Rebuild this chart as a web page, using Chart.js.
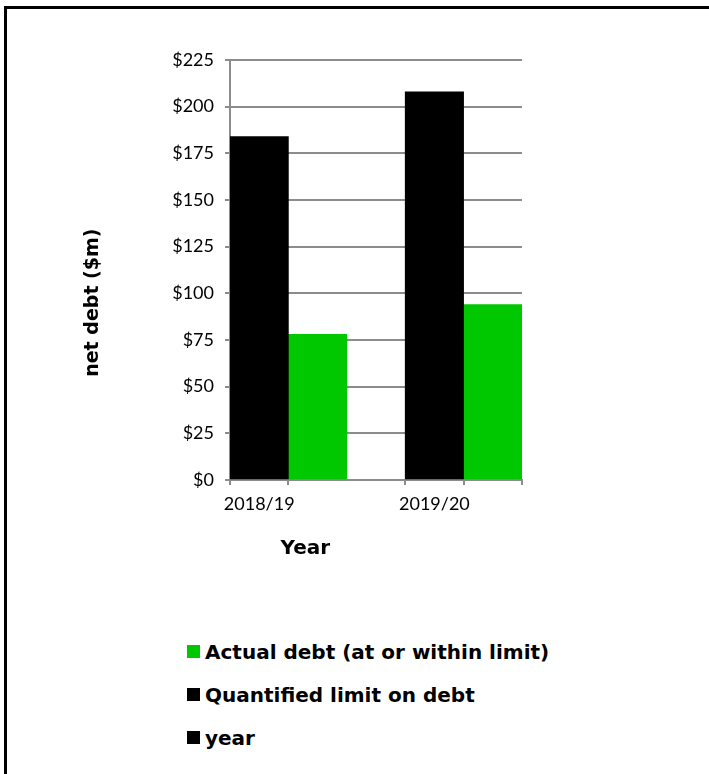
<!DOCTYPE html>
<html>
<head>
<meta charset="utf-8">
<script src="https://cdn.jsdelivr.net/npm/chart.js@4.4.1/dist/chart.umd.min.js"></script>
<style>
  html, body { margin: 0; padding: 0; background: #fff; overflow: hidden; }
  body { width: 709px; height: 774px; position: relative; }
  #marco { position: absolute; left: 4px; top: 6px; width: 800px; height: 900px;
           border-left: 3px solid #000; border-top: 3px solid #000; }
  #grafico { position: absolute; left: 0; top: 0; }
  #legenda { position: absolute; left: 187px; top: 630px; font-family: 'DejaVu Sans', sans-serif;
             font-weight: bold; font-size: 20px; color: #000; }
  #legenda div { height: 43px; display: flex; align-items: center; }
  #legenda span.caixa { display: inline-block; width: 13px; height: 13px; margin-right: 5px; }
</style>
</head>
<body>
<div id="marco"></div>
<canvas id="grafico" width="709" height="564"></canvas>
<div id="legenda"></div>
<script>
// dados
const anos = ['2018/19', '2019/20'];
const limiteDivida = [184, 208];   // Quantified limit on debt
const dividaReal = [78, 94];       // Actual debt (at or within limit)
const nomesSeries = ['Quantified limit on debt', 'Actual debt (at or within limit)'];
const ticksY = [0, 25, 50, 75, 100, 125, 150, 175, 200, 225];
const tituloX = 'Year';
const tituloY = 'net debt ($m)';

// legenda: as duas séries e a entrada "year" (sem barras)
const itensLegenda = [
  { nome: nomesSeries[1], cor: '#00c800' },
  { nome: nomesSeries[0], cor: '#000000' },
  { nome: 'year', cor: '#000000' }
];

const corGrade = '#8c8c8c';

// marcas do eixo x: bordas de cada barra, e o rótulo no meio da primeira barra de cada ano
const ticksX = [];
const rotulosX = [];
anos.forEach((ano, i) => {
  ticksX.push(i - 1/3, i - 1/6, i);
  rotulosX.push('', ano, '');
});
ticksX.push(anos.length - 1 + 1/3);
rotulosX.push('');

// títulos dos eixos desenhados fora do centro, como no original
const titulosEixos = {
  id: 'titulosEixos',
  afterDraw(chart) {
    const ctx = chart.ctx;
    const area = chart.chartArea;
    ctx.save();
    ctx.fillStyle = '#000';
    ctx.textAlign = 'center';
    ctx.textBaseline = 'middle';
    ctx.font = 'bold 20px "DejaVu Sans", sans-serif';
    ctx.fillText(tituloX, chart.scales.x.getPixelForValue(0) + 17, area.bottom + 69);
    ctx.font = 'bold 19px "DejaVu Sans", sans-serif';
    ctx.translate(93, chart.scales.y.getPixelForValue(95));
    ctx.rotate(-Math.PI / 2);
    ctx.fillText(tituloY, 0, 0);
    ctx.restore();
  }
};

Chart.defaults.font.family = 'Lato, sans-serif';
Chart.defaults.color = '#000';

const ctx = document.getElementById('grafico').getContext('2d');
const chart = new Chart(ctx, {
  type: 'bar',
  data: {
    datasets: [
      { label: nomesSeries[0], data: limiteDivida.map((v, i) => ({ x: i, y: v })), backgroundColor: '#000000' },
      { label: nomesSeries[1], data: dividaReal.map((v, i) => ({ x: i, y: v })), backgroundColor: '#00c800' }
    ]
  },
  options: {
    responsive: false,
    animation: false,
    devicePixelRatio: 1,
    barThickness: 58.4,
    layout: { padding: { left: 80, top: 60, right: 187, bottom: 0 } },
    plugins: {
      legend: { display: false },
      tooltip: { enabled: false }
    },
    scales: {
      x: {
        type: 'linear',
        offset: false,
        min: -1/3,
        max: anos.length - 1 + 1/3,
        afterBuildTicks(scale) { scale.ticks = ticksX.map(v => ({ value: v })); },
        grid: {
          offset: false,
          drawOnChartArea: false,
          tickLength: 5,
          lineWidth: 2,
          color: c => (c.index !== undefined && rotulosX[c.index]) ? 'rgba(0,0,0,0)' : corGrade
        },
        border: { color: corGrade, width: 2 },
        ticks: { font: { size: 18 }, padding: 8, maxRotation: 0, autoSkip: false, callback: (v, i) => rotulosX[i] },
        afterFit(scale) { scale.height = 84; }
      },
      y: {
        min: 0,
        max: 225,
        afterBuildTicks(scale) { scale.ticks = ticksY.map(v => ({ value: v })); },
        grid: { color: corGrade, lineWidth: 2, tickLength: 5 },
        border: { color: corGrade, width: 2 },
        ticks: { font: { size: 18 }, padding: 11, callback: v => '$' + v },
        afterFit(scale) { scale.width = 150; }
      }
    }
  },
  plugins: [titulosEixos]
});

// legenda em coluna, na ordem do original
const legenda = document.getElementById('legenda');
itensLegenda.forEach(item => {
  legenda.innerHTML += `<div><span class="caixa" style="background:${item.cor}"></span>${item.nome}</div>`;
});
</script>
</body>
</html>
